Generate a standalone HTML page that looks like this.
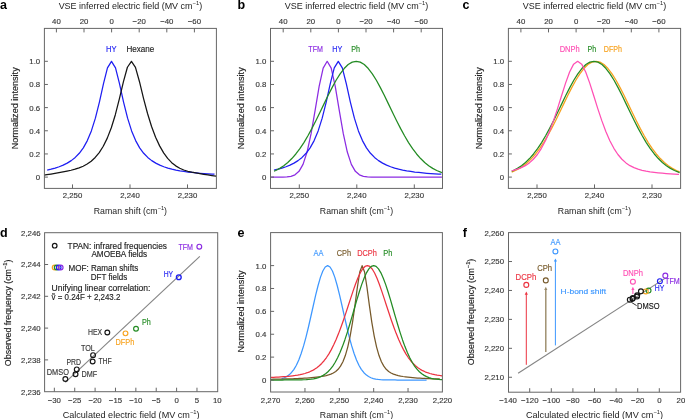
<!DOCTYPE html>
<html><head><meta charset="utf-8"><style>
html,body{margin:0;padding:0;background:#fff;}
svg{display:block;will-change:transform;}
text{font-family:"Liberation Sans", sans-serif;}
</style></head><body>
<svg width="685" height="419" viewBox="0 0 685 419">
<rect width="685" height="419" fill="#fff"/>
<polyline points="214.52,174.24 212.11,174.11 208.09,173.86 204.06,173.58 200.04,173.27 196.01,172.90 191.99,172.49 187.96,172.02 183.94,171.46 179.91,170.82 175.89,170.06 171.86,169.15 167.84,168.07 163.81,166.76 159.79,165.15 155.76,163.15 151.74,160.63 147.71,157.43 143.69,153.28 139.66,147.83 135.64,140.59 131.61,130.93 127.59,118.18 123.56,102.05 119.54,83.81 115.51,67.89 111.49,61.30 107.46,67.89 103.44,83.81 99.41,102.05 95.39,118.18 91.36,130.93 87.34,140.59 83.31,147.83 79.29,153.28 75.26,157.43 71.24,160.63 67.21,163.15 63.19,165.15 59.16,166.76 55.14,168.07 51.11,169.15 47.20,170.03" fill="none" stroke="#1e1ef2" stroke-width="1.25" stroke-linejoin="round"/>
<polyline points="216.25,176.11 215.96,176.07 211.94,175.54 207.91,174.94 203.89,174.30 199.86,173.65 195.84,172.97 191.81,172.22 187.79,171.27 183.76,169.99 179.74,168.24 175.71,165.85 171.69,162.64 167.66,158.39 163.64,152.87 159.61,145.87 155.59,137.16 151.56,126.47 147.54,113.53 143.51,98.29 139.49,81.71 135.46,67.31 131.44,61.30 127.41,67.26 123.39,81.84 119.36,98.97 115.34,114.71 111.31,127.75 107.29,138.14 103.26,146.27 99.24,152.58 95.21,157.45 91.19,161.18 87.16,164.04 83.14,166.22 79.11,167.90 75.09,169.21 71.06,170.24 67.04,171.10 63.01,171.88 58.99,172.62 54.96,173.34 50.94,174.04 46.91,174.70 44.04,175.15" fill="none" stroke="#151515" stroke-width="1.25" stroke-linejoin="round"/>
<rect x="44.40" y="28.40" width="172.00" height="160.00" fill="none" stroke="#666666" stroke-width="1"/>
<line x1="72.50" y1="188.40" x2="72.50" y2="184.40" stroke="#666666" stroke-width="1"/>
<text x="72.50" y="198.30" font-size="7.8" text-anchor="middle" fill="#383838" font-weight="normal" stroke="#383838" stroke-width="0.15">2,250</text>
<line x1="130.00" y1="188.40" x2="130.00" y2="184.40" stroke="#666666" stroke-width="1"/>
<text x="130.00" y="198.30" font-size="7.8" text-anchor="middle" fill="#383838" font-weight="normal" stroke="#383838" stroke-width="0.15">2,240</text>
<line x1="187.50" y1="188.40" x2="187.50" y2="184.40" stroke="#666666" stroke-width="1"/>
<text x="187.50" y="198.30" font-size="7.8" text-anchor="middle" fill="#383838" font-weight="normal" stroke="#383838" stroke-width="0.15">2,230</text>
<line x1="44.40" y1="177.10" x2="47.90" y2="177.10" stroke="#666666" stroke-width="1"/>
<text x="40.20" y="180.00" font-size="7.8" text-anchor="end" fill="#383838" font-weight="normal" stroke="#383838" stroke-width="0.15">0</text>
<line x1="44.40" y1="153.94" x2="47.90" y2="153.94" stroke="#666666" stroke-width="1"/>
<text x="40.20" y="156.84" font-size="7.8" text-anchor="end" fill="#383838" font-weight="normal" stroke="#383838" stroke-width="0.15">0.2</text>
<line x1="44.40" y1="130.78" x2="47.90" y2="130.78" stroke="#666666" stroke-width="1"/>
<text x="40.20" y="133.68" font-size="7.8" text-anchor="end" fill="#383838" font-weight="normal" stroke="#383838" stroke-width="0.15">0.4</text>
<line x1="44.40" y1="107.62" x2="47.90" y2="107.62" stroke="#666666" stroke-width="1"/>
<text x="40.20" y="110.52" font-size="7.8" text-anchor="end" fill="#383838" font-weight="normal" stroke="#383838" stroke-width="0.15">0.6</text>
<line x1="44.40" y1="84.46" x2="47.90" y2="84.46" stroke="#666666" stroke-width="1"/>
<text x="40.20" y="87.36" font-size="7.8" text-anchor="end" fill="#383838" font-weight="normal" stroke="#383838" stroke-width="0.15">0.8</text>
<line x1="44.40" y1="61.30" x2="47.90" y2="61.30" stroke="#666666" stroke-width="1"/>
<text x="40.20" y="64.20" font-size="7.8" text-anchor="end" fill="#383838" font-weight="normal" stroke="#383838" stroke-width="0.15">1.0</text>
<line x1="56.40" y1="28.40" x2="56.40" y2="32.40" stroke="#666666" stroke-width="1"/>
<text x="56.40" y="23.80" font-size="7.8" text-anchor="middle" fill="#383838" font-weight="normal" stroke="#383838" stroke-width="0.15">40</text>
<line x1="84.00" y1="28.40" x2="84.00" y2="32.40" stroke="#666666" stroke-width="1"/>
<text x="84.00" y="23.80" font-size="7.8" text-anchor="middle" fill="#383838" font-weight="normal" stroke="#383838" stroke-width="0.15">20</text>
<line x1="111.60" y1="28.40" x2="111.60" y2="32.40" stroke="#666666" stroke-width="1"/>
<text x="111.60" y="23.80" font-size="7.8" text-anchor="middle" fill="#383838" font-weight="normal" stroke="#383838" stroke-width="0.15">0</text>
<line x1="139.20" y1="28.40" x2="139.20" y2="32.40" stroke="#666666" stroke-width="1"/>
<text x="139.20" y="23.80" font-size="7.8" text-anchor="middle" fill="#383838" font-weight="normal" stroke="#383838" stroke-width="0.15">−20</text>
<line x1="166.80" y1="28.40" x2="166.80" y2="32.40" stroke="#666666" stroke-width="1"/>
<text x="166.80" y="23.80" font-size="7.8" text-anchor="middle" fill="#383838" font-weight="normal" stroke="#383838" stroke-width="0.15">−40</text>
<line x1="194.40" y1="28.40" x2="194.40" y2="32.40" stroke="#666666" stroke-width="1"/>
<text x="194.40" y="23.80" font-size="7.8" text-anchor="middle" fill="#383838" font-weight="normal" stroke="#383838" stroke-width="0.15">−60</text>
<text x="130.40" y="9.10" font-size="8.3" text-anchor="middle" fill="#222222" textLength="143.50" lengthAdjust="spacingAndGlyphs">VSE inferred electric field (MV cm<tspan dy="-3.9" font-size="5.4">−</tspan><tspan font-size="5.4">1</tspan><tspan dy="3.9">)</tspan></text>
<text x="130.40" y="214.10" font-size="8.4" text-anchor="middle" fill="#222222" textLength="73.30" lengthAdjust="spacingAndGlyphs">Raman shift (cm<tspan dy="-3.9" font-size="5.4">−</tspan><tspan font-size="5.4">1</tspan><tspan dy="3.9">)</tspan></text>
<text x="0" y="0" font-size="8.5" stroke="#222222" stroke-width="0.15" text-anchor="middle" fill="#222222" textLength="82" lengthAdjust="spacingAndGlyphs" transform="translate(18.30 108.3) rotate(-90)">Normalized intensity</text>
<text x="106.00" y="51.90" font-size="8.3" text-anchor="start" fill="#1e1ef2" font-weight="normal" stroke="#1e1ef2" stroke-width="0.15" textLength="10.60" lengthAdjust="spacingAndGlyphs">HY</text>
<text x="126.50" y="51.90" font-size="8.3" text-anchor="start" fill="#222222" font-weight="normal" stroke="#222222" stroke-width="0.15" textLength="27.80" lengthAdjust="spacingAndGlyphs">Hexane</text>
<polyline points="441.90,177.10 439.89,177.10 435.86,177.10 431.84,177.10 427.81,177.10 423.79,177.10 419.76,177.10 415.74,177.10 411.71,177.10 407.69,177.10 403.66,177.10 399.64,177.10 395.61,177.10 391.59,177.10 387.56,177.10 383.54,177.10 379.51,177.10 375.49,177.08 371.46,177.03 367.44,176.85 363.41,176.29 359.39,174.80 355.36,171.34 351.34,164.33 347.31,152.06 343.29,133.64 339.26,110.37 335.24,86.46 331.21,68.18 327.19,61.30 323.16,68.18 319.14,86.46 315.11,110.37 311.09,133.64 307.06,152.06 303.04,164.33 299.01,171.34 294.99,174.80 290.96,176.29 286.94,176.85 282.91,177.03 278.89,177.08 274.86,177.10 271.12,177.10" fill="none" stroke="#8b2be2" stroke-width="1.25" stroke-linejoin="round"/>
<polyline points="441.32,174.24 438.91,174.11 434.89,173.86 430.86,173.58 426.84,173.27 422.81,172.90 418.79,172.49 414.76,172.02 410.74,171.46 406.71,170.82 402.69,170.06 398.66,169.15 394.64,168.07 390.61,166.76 386.59,165.15 382.56,163.15 378.54,160.63 374.51,157.43 370.49,153.28 366.46,147.83 362.44,140.59 358.41,130.93 354.39,118.18 350.36,102.05 346.34,83.81 342.31,67.89 338.29,61.30 334.26,67.89 330.24,83.81 326.21,102.05 322.19,118.18 318.16,130.93 314.14,140.59 310.11,147.83 306.09,153.28 302.06,157.43 298.04,160.63 294.01,163.15 289.99,165.15 285.96,166.76 281.94,168.07 277.91,169.15 274.00,170.03" fill="none" stroke="#1e1ef2" stroke-width="1.25" stroke-linejoin="round"/>
<polyline points="441.90,172.58 440.75,172.17 436.73,170.49 432.70,168.36 428.68,165.71 424.65,162.47 420.62,158.57 416.60,153.97 412.58,148.63 408.55,142.56 404.53,135.80 400.50,128.40 396.48,120.50 392.45,112.26 388.43,103.86 384.40,95.56 380.37,87.61 376.35,80.28 372.33,73.83 368.30,68.53 364.28,64.57 360.25,62.13 356.23,61.30 352.20,62.13 348.18,64.57 344.15,68.53 340.12,73.83 336.10,80.28 332.08,87.61 328.05,95.56 324.03,103.86 320.00,112.26 315.98,120.50 311.95,128.40 307.93,135.80 303.90,142.56 299.87,148.63 295.85,153.97 291.83,158.57 287.80,162.47 283.78,165.71 279.75,168.36 275.73,170.49 274.00,171.26" fill="none" stroke="#238b23" stroke-width="1.25" stroke-linejoin="round"/>
<rect x="270.50" y="28.40" width="172.00" height="160.00" fill="none" stroke="#666666" stroke-width="1"/>
<line x1="299.30" y1="188.40" x2="299.30" y2="184.40" stroke="#666666" stroke-width="1"/>
<text x="299.30" y="198.30" font-size="7.8" text-anchor="middle" fill="#383838" font-weight="normal" stroke="#383838" stroke-width="0.15">2,250</text>
<line x1="356.80" y1="188.40" x2="356.80" y2="184.40" stroke="#666666" stroke-width="1"/>
<text x="356.80" y="198.30" font-size="7.8" text-anchor="middle" fill="#383838" font-weight="normal" stroke="#383838" stroke-width="0.15">2,240</text>
<line x1="414.30" y1="188.40" x2="414.30" y2="184.40" stroke="#666666" stroke-width="1"/>
<text x="414.30" y="198.30" font-size="7.8" text-anchor="middle" fill="#383838" font-weight="normal" stroke="#383838" stroke-width="0.15">2,230</text>
<line x1="270.50" y1="177.10" x2="274.00" y2="177.10" stroke="#666666" stroke-width="1"/>
<text x="266.30" y="180.00" font-size="7.8" text-anchor="end" fill="#383838" font-weight="normal" stroke="#383838" stroke-width="0.15">0</text>
<line x1="270.50" y1="153.94" x2="274.00" y2="153.94" stroke="#666666" stroke-width="1"/>
<text x="266.30" y="156.84" font-size="7.8" text-anchor="end" fill="#383838" font-weight="normal" stroke="#383838" stroke-width="0.15">0.2</text>
<line x1="270.50" y1="130.78" x2="274.00" y2="130.78" stroke="#666666" stroke-width="1"/>
<text x="266.30" y="133.68" font-size="7.8" text-anchor="end" fill="#383838" font-weight="normal" stroke="#383838" stroke-width="0.15">0.4</text>
<line x1="270.50" y1="107.62" x2="274.00" y2="107.62" stroke="#666666" stroke-width="1"/>
<text x="266.30" y="110.52" font-size="7.8" text-anchor="end" fill="#383838" font-weight="normal" stroke="#383838" stroke-width="0.15">0.6</text>
<line x1="270.50" y1="84.46" x2="274.00" y2="84.46" stroke="#666666" stroke-width="1"/>
<text x="266.30" y="87.36" font-size="7.8" text-anchor="end" fill="#383838" font-weight="normal" stroke="#383838" stroke-width="0.15">0.8</text>
<line x1="270.50" y1="61.30" x2="274.00" y2="61.30" stroke="#666666" stroke-width="1"/>
<text x="266.30" y="64.20" font-size="7.8" text-anchor="end" fill="#383838" font-weight="normal" stroke="#383838" stroke-width="0.15">1.0</text>
<line x1="283.20" y1="28.40" x2="283.20" y2="32.40" stroke="#666666" stroke-width="1"/>
<text x="283.20" y="23.80" font-size="7.8" text-anchor="middle" fill="#383838" font-weight="normal" stroke="#383838" stroke-width="0.15">40</text>
<line x1="310.80" y1="28.40" x2="310.80" y2="32.40" stroke="#666666" stroke-width="1"/>
<text x="310.80" y="23.80" font-size="7.8" text-anchor="middle" fill="#383838" font-weight="normal" stroke="#383838" stroke-width="0.15">20</text>
<line x1="338.40" y1="28.40" x2="338.40" y2="32.40" stroke="#666666" stroke-width="1"/>
<text x="338.40" y="23.80" font-size="7.8" text-anchor="middle" fill="#383838" font-weight="normal" stroke="#383838" stroke-width="0.15">0</text>
<line x1="366.00" y1="28.40" x2="366.00" y2="32.40" stroke="#666666" stroke-width="1"/>
<text x="366.00" y="23.80" font-size="7.8" text-anchor="middle" fill="#383838" font-weight="normal" stroke="#383838" stroke-width="0.15">−20</text>
<line x1="393.60" y1="28.40" x2="393.60" y2="32.40" stroke="#666666" stroke-width="1"/>
<text x="393.60" y="23.80" font-size="7.8" text-anchor="middle" fill="#383838" font-weight="normal" stroke="#383838" stroke-width="0.15">−40</text>
<line x1="421.20" y1="28.40" x2="421.20" y2="32.40" stroke="#666666" stroke-width="1"/>
<text x="421.20" y="23.80" font-size="7.8" text-anchor="middle" fill="#383838" font-weight="normal" stroke="#383838" stroke-width="0.15">−60</text>
<text x="356.50" y="9.10" font-size="8.3" text-anchor="middle" fill="#222222" textLength="143.50" lengthAdjust="spacingAndGlyphs">VSE inferred electric field (MV cm<tspan dy="-3.9" font-size="5.4">−</tspan><tspan font-size="5.4">1</tspan><tspan dy="3.9">)</tspan></text>
<text x="356.50" y="214.10" font-size="8.4" text-anchor="middle" fill="#222222" textLength="73.30" lengthAdjust="spacingAndGlyphs">Raman shift (cm<tspan dy="-3.9" font-size="5.4">−</tspan><tspan font-size="5.4">1</tspan><tspan dy="3.9">)</tspan></text>
<text x="0" y="0" font-size="8.5" stroke="#222222" stroke-width="0.15" text-anchor="middle" fill="#222222" textLength="82" lengthAdjust="spacingAndGlyphs" transform="translate(244.40 108.3) rotate(-90)">Normalized intensity</text>
<text x="308.30" y="51.90" font-size="8.3" text-anchor="start" fill="#8b2be2" font-weight="normal" stroke="#8b2be2" stroke-width="0.15" textLength="14.60" lengthAdjust="spacingAndGlyphs">TFM</text>
<text x="332.20" y="51.90" font-size="8.3" text-anchor="start" fill="#1e1ef2" font-weight="normal" stroke="#1e1ef2" stroke-width="0.15" textLength="10.00" lengthAdjust="spacingAndGlyphs">HY</text>
<text x="351.20" y="51.90" font-size="8.3" text-anchor="start" fill="#238b23" font-weight="normal" stroke="#238b23" stroke-width="0.15" textLength="8.80" lengthAdjust="spacingAndGlyphs">Ph</text>
<polyline points="679.60,171.85 676.44,170.49 672.41,168.36 668.39,165.71 664.36,162.47 660.34,158.57 656.31,153.97 652.29,148.63 648.26,142.56 644.24,135.80 640.21,128.40 636.19,120.50 632.16,112.26 628.14,103.86 624.11,95.56 620.09,87.61 616.06,80.28 612.04,73.83 608.01,68.53 603.99,64.57 599.96,62.13 595.94,61.30 591.91,62.13 587.89,64.57 583.86,68.53 579.84,73.83 575.81,80.28 571.79,87.61 567.76,95.56 563.74,103.86 559.71,112.26 555.69,120.50 551.66,128.40 547.64,135.80 543.61,142.56 539.59,148.63 535.56,153.97 531.54,158.57 527.51,162.47 523.49,165.71 519.46,168.36 515.44,170.49 511.70,172.07" fill="none" stroke="#f7a21e" stroke-width="1.25" stroke-linejoin="round"/>
<polyline points="679.60,172.58 678.45,172.17 674.43,170.49 670.40,168.36 666.38,165.71 662.35,162.47 658.32,158.57 654.30,153.97 650.28,148.63 646.25,142.56 642.23,135.80 638.20,128.40 634.18,120.50 630.15,112.26 626.12,103.86 622.10,95.56 618.07,87.61 614.05,80.28 610.03,73.83 606.00,68.53 601.98,64.57 597.95,62.13 593.93,61.30 589.90,62.13 585.88,64.57 581.85,68.53 577.82,73.83 573.80,80.28 569.78,87.61 565.75,95.56 561.73,103.86 557.70,112.26 553.68,120.50 549.65,128.40 545.62,135.80 541.60,142.56 537.57,148.63 533.55,153.97 529.53,158.57 525.50,162.47 521.48,165.71 517.45,168.36 513.43,170.49 511.70,171.26" fill="none" stroke="#238b23" stroke-width="1.25" stroke-linejoin="round"/>
<polyline points="679.02,174.37 678.28,174.33 674.25,174.10 670.23,173.85 666.20,173.57 662.18,173.24 658.15,172.86 654.13,172.40 650.10,171.86 646.08,171.18 642.05,170.32 638.03,169.19 634.00,167.68 629.98,165.65 625.95,162.91 621.93,159.26 617.90,154.48 613.88,148.33 609.85,140.68 605.83,131.43 601.80,120.65 597.78,108.60 593.75,95.79 589.73,83.12 585.70,71.98 581.68,64.15 577.65,61.30 573.63,64.15 569.60,71.98 565.58,83.12 561.55,95.79 557.53,108.60 553.50,120.65 549.48,131.43 545.45,140.68 541.43,148.33 537.40,154.48 533.38,159.26 529.35,162.91 525.33,165.65 521.30,167.68 517.28,169.19 513.25,170.32 511.70,170.68" fill="none" stroke="#ff4fb4" stroke-width="1.25" stroke-linejoin="round"/>
<rect x="508.40" y="28.40" width="172.20" height="160.00" fill="none" stroke="#666666" stroke-width="1"/>
<line x1="537.00" y1="188.40" x2="537.00" y2="184.40" stroke="#666666" stroke-width="1"/>
<text x="537.00" y="198.30" font-size="7.8" text-anchor="middle" fill="#383838" font-weight="normal" stroke="#383838" stroke-width="0.15">2,250</text>
<line x1="594.50" y1="188.40" x2="594.50" y2="184.40" stroke="#666666" stroke-width="1"/>
<text x="594.50" y="198.30" font-size="7.8" text-anchor="middle" fill="#383838" font-weight="normal" stroke="#383838" stroke-width="0.15">2,240</text>
<line x1="652.00" y1="188.40" x2="652.00" y2="184.40" stroke="#666666" stroke-width="1"/>
<text x="652.00" y="198.30" font-size="7.8" text-anchor="middle" fill="#383838" font-weight="normal" stroke="#383838" stroke-width="0.15">2,230</text>
<line x1="508.40" y1="177.10" x2="511.90" y2="177.10" stroke="#666666" stroke-width="1"/>
<text x="504.20" y="180.00" font-size="7.8" text-anchor="end" fill="#383838" font-weight="normal" stroke="#383838" stroke-width="0.15">0</text>
<line x1="508.40" y1="153.94" x2="511.90" y2="153.94" stroke="#666666" stroke-width="1"/>
<text x="504.20" y="156.84" font-size="7.8" text-anchor="end" fill="#383838" font-weight="normal" stroke="#383838" stroke-width="0.15">0.2</text>
<line x1="508.40" y1="130.78" x2="511.90" y2="130.78" stroke="#666666" stroke-width="1"/>
<text x="504.20" y="133.68" font-size="7.8" text-anchor="end" fill="#383838" font-weight="normal" stroke="#383838" stroke-width="0.15">0.4</text>
<line x1="508.40" y1="107.62" x2="511.90" y2="107.62" stroke="#666666" stroke-width="1"/>
<text x="504.20" y="110.52" font-size="7.8" text-anchor="end" fill="#383838" font-weight="normal" stroke="#383838" stroke-width="0.15">0.6</text>
<line x1="508.40" y1="84.46" x2="511.90" y2="84.46" stroke="#666666" stroke-width="1"/>
<text x="504.20" y="87.36" font-size="7.8" text-anchor="end" fill="#383838" font-weight="normal" stroke="#383838" stroke-width="0.15">0.8</text>
<line x1="508.40" y1="61.30" x2="511.90" y2="61.30" stroke="#666666" stroke-width="1"/>
<text x="504.20" y="64.20" font-size="7.8" text-anchor="end" fill="#383838" font-weight="normal" stroke="#383838" stroke-width="0.15">1.0</text>
<line x1="520.90" y1="28.40" x2="520.90" y2="32.40" stroke="#666666" stroke-width="1"/>
<text x="520.90" y="23.80" font-size="7.8" text-anchor="middle" fill="#383838" font-weight="normal" stroke="#383838" stroke-width="0.15">40</text>
<line x1="548.50" y1="28.40" x2="548.50" y2="32.40" stroke="#666666" stroke-width="1"/>
<text x="548.50" y="23.80" font-size="7.8" text-anchor="middle" fill="#383838" font-weight="normal" stroke="#383838" stroke-width="0.15">20</text>
<line x1="576.10" y1="28.40" x2="576.10" y2="32.40" stroke="#666666" stroke-width="1"/>
<text x="576.10" y="23.80" font-size="7.8" text-anchor="middle" fill="#383838" font-weight="normal" stroke="#383838" stroke-width="0.15">0</text>
<line x1="603.70" y1="28.40" x2="603.70" y2="32.40" stroke="#666666" stroke-width="1"/>
<text x="603.70" y="23.80" font-size="7.8" text-anchor="middle" fill="#383838" font-weight="normal" stroke="#383838" stroke-width="0.15">−20</text>
<line x1="631.30" y1="28.40" x2="631.30" y2="32.40" stroke="#666666" stroke-width="1"/>
<text x="631.30" y="23.80" font-size="7.8" text-anchor="middle" fill="#383838" font-weight="normal" stroke="#383838" stroke-width="0.15">−40</text>
<line x1="658.90" y1="28.40" x2="658.90" y2="32.40" stroke="#666666" stroke-width="1"/>
<text x="658.90" y="23.80" font-size="7.8" text-anchor="middle" fill="#383838" font-weight="normal" stroke="#383838" stroke-width="0.15">−60</text>
<text x="594.50" y="9.10" font-size="8.3" text-anchor="middle" fill="#222222" textLength="143.50" lengthAdjust="spacingAndGlyphs">VSE inferred electric field (MV cm<tspan dy="-3.9" font-size="5.4">−</tspan><tspan font-size="5.4">1</tspan><tspan dy="3.9">)</tspan></text>
<text x="594.50" y="214.10" font-size="8.4" text-anchor="middle" fill="#222222" textLength="73.30" lengthAdjust="spacingAndGlyphs">Raman shift (cm<tspan dy="-3.9" font-size="5.4">−</tspan><tspan font-size="5.4">1</tspan><tspan dy="3.9">)</tspan></text>
<text x="0" y="0" font-size="8.5" stroke="#222222" stroke-width="0.15" text-anchor="middle" fill="#222222" textLength="82" lengthAdjust="spacingAndGlyphs" transform="translate(482.30 108.3) rotate(-90)">Normalized intensity</text>
<text x="559.70" y="51.90" font-size="8.3" text-anchor="start" fill="#ff4fb4" font-weight="normal" stroke="#ff4fb4" stroke-width="0.15" textLength="20.00" lengthAdjust="spacingAndGlyphs">DNPh</text>
<text x="587.60" y="51.90" font-size="8.3" text-anchor="start" fill="#238b23" font-weight="normal" stroke="#238b23" stroke-width="0.15" textLength="8.60" lengthAdjust="spacingAndGlyphs">Ph</text>
<text x="603.80" y="51.90" font-size="8.3" text-anchor="start" fill="#f7a21e" font-weight="normal" stroke="#f7a21e" stroke-width="0.15" textLength="18.20" lengthAdjust="spacingAndGlyphs">DFPh</text>
<text x="0.00" y="9.00" font-size="12.5" text-anchor="start" fill="#000" font-weight="bold">a</text>
<text x="237.40" y="9.30" font-size="12.5" text-anchor="start" fill="#000" font-weight="bold">b</text>
<text x="462.60" y="9.30" font-size="12.5" text-anchor="start" fill="#000" font-weight="bold">c</text>
<text x="0.00" y="236.60" font-size="12.5" text-anchor="start" fill="#000" font-weight="bold">d</text>
<text x="237.60" y="236.60" font-size="12.5" text-anchor="start" fill="#000" font-weight="bold">e</text>
<text x="462.80" y="236.60" font-size="12.5" text-anchor="start" fill="#000" font-weight="bold">f</text>
<rect x="44.60" y="232.70" width="173.10" height="159.00" fill="none" stroke="#666666" stroke-width="1"/>
<line x1="54.35" y1="391.70" x2="54.35" y2="387.70" stroke="#666666" stroke-width="1"/>
<text x="54.35" y="402.70" font-size="7.8" text-anchor="middle" fill="#383838" font-weight="normal" stroke="#383838" stroke-width="0.15">−30</text>
<line x1="74.72" y1="391.70" x2="74.72" y2="387.70" stroke="#666666" stroke-width="1"/>
<text x="74.72" y="402.70" font-size="7.8" text-anchor="middle" fill="#383838" font-weight="normal" stroke="#383838" stroke-width="0.15">−25</text>
<line x1="95.10" y1="391.70" x2="95.10" y2="387.70" stroke="#666666" stroke-width="1"/>
<text x="95.10" y="402.70" font-size="7.8" text-anchor="middle" fill="#383838" font-weight="normal" stroke="#383838" stroke-width="0.15">−20</text>
<line x1="115.47" y1="391.70" x2="115.47" y2="387.70" stroke="#666666" stroke-width="1"/>
<text x="115.47" y="402.70" font-size="7.8" text-anchor="middle" fill="#383838" font-weight="normal" stroke="#383838" stroke-width="0.15">−15</text>
<line x1="135.85" y1="391.70" x2="135.85" y2="387.70" stroke="#666666" stroke-width="1"/>
<text x="135.85" y="402.70" font-size="7.8" text-anchor="middle" fill="#383838" font-weight="normal" stroke="#383838" stroke-width="0.15">−10</text>
<line x1="156.22" y1="391.70" x2="156.22" y2="387.70" stroke="#666666" stroke-width="1"/>
<text x="156.22" y="402.70" font-size="7.8" text-anchor="middle" fill="#383838" font-weight="normal" stroke="#383838" stroke-width="0.15">−5</text>
<line x1="176.60" y1="391.70" x2="176.60" y2="387.70" stroke="#666666" stroke-width="1"/>
<text x="176.60" y="402.70" font-size="7.8" text-anchor="middle" fill="#383838" font-weight="normal" stroke="#383838" stroke-width="0.15">0</text>
<line x1="196.97" y1="391.70" x2="196.97" y2="387.70" stroke="#666666" stroke-width="1"/>
<text x="196.97" y="402.70" font-size="7.8" text-anchor="middle" fill="#383838" font-weight="normal" stroke="#383838" stroke-width="0.15">5</text>
<text x="217.35" y="402.70" font-size="7.8" text-anchor="middle" fill="#383838" font-weight="normal" stroke="#383838" stroke-width="0.15">10</text>
<text x="40.60" y="394.60" font-size="7.8" text-anchor="end" fill="#383838" font-weight="normal" stroke="#383838" stroke-width="0.15">2,236</text>
<line x1="44.60" y1="359.90" x2="48.10" y2="359.90" stroke="#666666" stroke-width="1"/>
<text x="40.60" y="362.80" font-size="7.8" text-anchor="end" fill="#383838" font-weight="normal" stroke="#383838" stroke-width="0.15">2,238</text>
<line x1="44.60" y1="328.10" x2="48.10" y2="328.10" stroke="#666666" stroke-width="1"/>
<text x="40.60" y="331.00" font-size="7.8" text-anchor="end" fill="#383838" font-weight="normal" stroke="#383838" stroke-width="0.15">2,240</text>
<line x1="44.60" y1="296.30" x2="48.10" y2="296.30" stroke="#666666" stroke-width="1"/>
<text x="40.60" y="299.20" font-size="7.8" text-anchor="end" fill="#383838" font-weight="normal" stroke="#383838" stroke-width="0.15">2,242</text>
<line x1="44.60" y1="264.50" x2="48.10" y2="264.50" stroke="#666666" stroke-width="1"/>
<text x="40.60" y="267.40" font-size="7.8" text-anchor="end" fill="#383838" font-weight="normal" stroke="#383838" stroke-width="0.15">2,244</text>
<text x="40.60" y="235.60" font-size="7.8" text-anchor="end" fill="#383838" font-weight="normal" stroke="#383838" stroke-width="0.15">2,246</text>
<line x1="65.34" y1="382.38" x2="199.82" y2="256.45" stroke="#858585" stroke-width="1.15"/>
<circle cx="199.30" cy="246.69" r="2.4" fill="none" stroke="#8b2be2" stroke-width="1.15"/>
<circle cx="178.80" cy="277.22" r="2.4" fill="none" stroke="#1e1ef2" stroke-width="1.35"/>
<circle cx="136.01" cy="328.74" r="2.4" fill="none" stroke="#238b23" stroke-width="1.15"/>
<circle cx="125.50" cy="333.35" r="2.4" fill="none" stroke="#f7a21e" stroke-width="1.15"/>
<circle cx="107.32" cy="332.55" r="2.4" fill="none" stroke="#151515" stroke-width="1.15"/>
<circle cx="93.06" cy="355.13" r="2.4" fill="none" stroke="#151515" stroke-width="1.15"/>
<circle cx="92.65" cy="361.49" r="2.4" fill="none" stroke="#151515" stroke-width="1.15"/>
<circle cx="76.76" cy="369.44" r="2.4" fill="none" stroke="#151515" stroke-width="1.15"/>
<circle cx="75.54" cy="374.21" r="2.4" fill="none" stroke="#151515" stroke-width="1.15"/>
<circle cx="65.35" cy="378.98" r="2.4" fill="none" stroke="#151515" stroke-width="1.15"/>
<text x="178.40" y="249.50" font-size="8.3" text-anchor="start" fill="#8b2be2" font-weight="normal" stroke="#8b2be2" stroke-width="0.15" textLength="14.60" lengthAdjust="spacingAndGlyphs">TFM</text>
<text x="163.70" y="277.40" font-size="8.3" text-anchor="start" fill="#1e1ef2" font-weight="normal" stroke="#1e1ef2" stroke-width="0.15" textLength="9.40" lengthAdjust="spacingAndGlyphs">HY</text>
<text x="142.00" y="324.60" font-size="8.3" text-anchor="start" fill="#238b23" font-weight="normal" stroke="#238b23" stroke-width="0.15" textLength="8.80" lengthAdjust="spacingAndGlyphs">Ph</text>
<text x="115.50" y="344.70" font-size="8.3" text-anchor="start" fill="#f7a21e" font-weight="normal" stroke="#f7a21e" stroke-width="0.15" textLength="18.80" lengthAdjust="spacingAndGlyphs">DFPh</text>
<text x="87.90" y="334.60" font-size="8.3" text-anchor="start" fill="#383838" font-weight="normal" stroke="#383838" stroke-width="0.15" textLength="14.20" lengthAdjust="spacingAndGlyphs">HEX</text>
<text x="80.90" y="350.90" font-size="8.3" text-anchor="start" fill="#383838" font-weight="normal" stroke="#383838" stroke-width="0.15" textLength="13.90" lengthAdjust="spacingAndGlyphs">TOL</text>
<text x="98.40" y="363.90" font-size="8.3" text-anchor="start" fill="#383838" font-weight="normal" stroke="#383838" stroke-width="0.15" textLength="13.40" lengthAdjust="spacingAndGlyphs">THF</text>
<text x="66.50" y="365.10" font-size="8.3" text-anchor="start" fill="#383838" font-weight="normal" stroke="#383838" stroke-width="0.15" textLength="14.60" lengthAdjust="spacingAndGlyphs">PRD</text>
<text x="46.80" y="374.90" font-size="8.3" text-anchor="start" fill="#383838" font-weight="normal" stroke="#383838" stroke-width="0.15" textLength="22.10" lengthAdjust="spacingAndGlyphs">DMSO</text>
<text x="81.50" y="376.80" font-size="8.3" text-anchor="start" fill="#383838" font-weight="normal" stroke="#383838" stroke-width="0.15" textLength="15.70" lengthAdjust="spacingAndGlyphs">DMF</text>
<circle cx="54.70" cy="245.70" r="2.3" fill="none" stroke="#151515" stroke-width="1.2"/>
<text x="67.60" y="248.60" font-size="8.6" text-anchor="start" fill="#222222" font-weight="normal" stroke="#222222" stroke-width="0.15" textLength="99.30" lengthAdjust="spacingAndGlyphs">TPAN: infrared frequencies</text>
<text x="91.40" y="257.40" font-size="8.6" text-anchor="start" fill="#222222" font-weight="normal" stroke="#222222" stroke-width="0.15" textLength="55.80" lengthAdjust="spacingAndGlyphs">AMOEBA fields</text>
<circle cx="54.60" cy="267.50" r="2.3" fill="none" stroke="#f7a21e" stroke-width="1.2"/>
<circle cx="56.65" cy="267.50" r="2.3" fill="none" stroke="#238b23" stroke-width="1.2"/>
<circle cx="58.70" cy="267.50" r="2.3" fill="none" stroke="#1e1ef2" stroke-width="1.2"/>
<circle cx="60.75" cy="267.50" r="2.3" fill="none" stroke="#8b2be2" stroke-width="1.2"/>
<text x="68.60" y="270.90" font-size="8.6" text-anchor="start" fill="#222222" font-weight="normal" stroke="#222222" stroke-width="0.15" textLength="69.60" lengthAdjust="spacingAndGlyphs">MOF: Raman shifts</text>
<text x="90.80" y="279.60" font-size="8.6" text-anchor="start" fill="#222222" font-weight="normal" stroke="#222222" stroke-width="0.15" textLength="36.40" lengthAdjust="spacingAndGlyphs">DFT fields</text>
<text x="51.50" y="291.20" font-size="8.6" text-anchor="start" fill="#222222" font-weight="normal" stroke="#222222" stroke-width="0.15" textLength="99.00" lengthAdjust="spacingAndGlyphs">Unifying linear correlation:</text>
<text x="51.50" y="300.30" font-size="8.6" text-anchor="start" fill="#222222" font-weight="normal" stroke="#222222" stroke-width="0.15" textLength="68.90" lengthAdjust="spacingAndGlyphs">ṽ = 0.24F + 2,243.2</text>
<text x="131.15" y="417.70" font-size="8.4" text-anchor="middle" fill="#222222" textLength="137.00" lengthAdjust="spacingAndGlyphs">Calculated electric field (MV cm<tspan dy="-3.9" font-size="5.4">−</tspan><tspan font-size="5.4">1</tspan><tspan dy="3.9">)</tspan></text>
<text x="0" y="0" font-size="8.5" stroke="#222222" stroke-width="0.15" text-anchor="middle" fill="#222222" textLength="106.5" lengthAdjust="spacingAndGlyphs" transform="translate(11.3 312.9) rotate(-90)">Observed frequency (cm<tspan dy="-3.9" font-size="5.4">−</tspan><tspan font-size="5.4">1</tspan><tspan dy="3.9">)</tspan></text>
<polyline points="426.59,380.00 426.25,380.00 423.85,380.00 421.44,380.00 419.04,380.00 416.63,380.00 414.22,380.00 411.82,380.00 409.41,380.00 407.01,380.00 404.60,380.00 402.20,380.00 399.79,380.00 397.39,380.00 394.98,379.99 392.58,379.98 390.17,379.97 387.77,379.94 385.36,379.89 382.96,379.81 380.55,379.67 378.15,379.45 375.74,379.09 373.34,378.55 370.93,377.73 368.53,376.53 366.12,374.83 363.72,372.48 361.31,369.32 358.91,365.19 356.50,359.97 354.09,353.54 351.69,345.88 349.28,337.06 346.88,327.26 344.47,316.76 342.07,305.99 339.66,295.46 337.26,285.73 334.85,277.40 332.45,271.00 330.04,266.98 327.64,265.60 325.23,266.98 322.83,271.00 320.42,277.40 318.02,285.73 315.61,295.46 313.21,305.99 310.80,316.76 308.40,327.26 305.99,337.06 303.59,345.88 301.18,353.54 298.78,359.97 296.37,365.19 293.96,369.32 291.56,372.48 289.15,374.83 286.75,376.53 284.34,377.73 281.94,378.55 281.60,378.64" fill="none" stroke="#3d97ff" stroke-width="1.25" stroke-linejoin="round"/>
<polyline points="439.99,379.00 439.14,378.98 436.73,378.91 434.33,378.84 431.92,378.76 429.51,378.67 427.11,378.57 424.70,378.46 422.30,378.34 419.89,378.20 417.49,378.05 415.08,377.87 412.68,377.67 410.27,377.44 407.87,377.17 405.46,376.86 403.06,376.50 400.65,376.07 398.25,375.54 395.84,374.89 393.44,374.06 391.03,372.95 388.63,371.43 386.22,369.27 383.82,366.17 381.41,361.75 379.01,355.55 376.60,347.11 374.20,336.04 371.79,322.09 369.38,305.43 366.98,287.41 364.57,271.98 362.17,265.60 359.76,271.98 357.36,287.41 354.95,305.43 352.55,322.09 350.14,336.04 347.74,347.11 345.33,355.55 342.93,361.75 340.52,366.17 338.12,369.27 335.71,371.43 333.31,372.95 330.90,374.06 328.50,374.89 326.09,375.54 323.69,376.07 321.28,376.50 318.88,376.86 316.47,377.17 314.07,377.44 311.66,377.67 309.25,377.87 306.85,378.05 304.44,378.20 302.04,378.34 299.63,378.46 297.23,378.57 294.82,378.67 292.42,378.76 290.01,378.84 287.61,378.91 285.20,378.98 282.80,379.04 280.39,379.09 277.99,379.15 275.58,379.19 273.18,379.23 270.94,379.27" fill="none" stroke="#76592a" stroke-width="1.25" stroke-linejoin="round"/>
<polyline points="442.06,375.79 441.95,375.78 439.55,375.46 437.14,375.08 434.74,374.64 432.33,374.12 429.93,373.48 427.52,372.72 425.12,371.80 422.71,370.69 420.31,369.34 417.90,367.72 415.50,365.77 413.09,363.45 410.69,360.72 408.28,357.52 405.88,353.83 403.47,349.60 401.06,344.82 398.66,339.48 396.25,333.61 393.85,327.25 391.44,320.45 389.04,313.32 386.63,305.98 384.23,298.59 381.82,291.35 379.42,284.49 377.01,278.28 374.61,273.02 372.20,269.00 369.80,266.46 367.39,265.60 364.99,266.46 362.58,269.00 360.18,273.02 357.77,278.28 355.37,284.49 352.96,291.35 350.56,298.59 348.15,305.98 345.75,313.32 343.34,320.45 340.93,327.25 338.53,333.61 336.12,339.48 333.72,344.82 331.31,349.60 328.91,353.83 326.50,357.52 324.10,360.72 321.69,363.45 319.29,365.77 316.88,367.72 314.48,369.34 312.07,370.69 309.67,371.80 307.26,372.72 304.86,373.48 302.45,374.12 300.05,374.64 297.64,375.08 295.24,375.46 292.83,375.78 290.43,376.06 288.02,376.31 285.62,376.52 283.21,376.72 280.80,376.89 278.40,377.05 275.99,377.20 273.59,377.34 271.18,377.46 270.94,377.47" fill="none" stroke="#ec3340" stroke-width="1.25" stroke-linejoin="round"/>
<polyline points="442.06,379.68 441.03,379.62 438.62,379.43 436.22,379.17 433.81,378.79 431.40,378.28 429.00,377.57 426.59,376.63 424.19,375.39 421.78,373.79 419.38,371.75 416.97,369.19 414.57,366.06 412.16,362.27 409.76,357.78 407.35,352.55 404.95,346.59 402.54,339.92 400.14,332.61 397.73,324.78 395.33,316.58 392.92,308.22 390.52,299.94 388.11,291.98 385.71,284.64 383.30,278.18 380.90,272.86 378.49,268.88 376.09,266.43 373.68,265.60 371.27,266.43 368.87,268.88 366.46,272.86 364.06,278.18 361.65,284.64 359.25,291.98 356.84,299.94 354.44,308.22 352.03,316.58 349.63,324.78 347.22,332.61 344.82,339.92 342.41,346.59 340.01,352.55 337.60,357.78 335.20,362.27 332.79,366.06 330.39,369.19 327.98,371.75 325.58,373.79 323.17,375.39 320.77,376.63 318.36,377.57 315.96,378.28 313.55,378.79 311.14,379.17 308.74,379.43 306.33,379.62 303.93,379.75 301.52,379.84 299.12,379.90 296.71,379.93 294.31,379.96 291.90,379.97 289.50,379.98 287.09,379.99 284.69,379.99 282.28,380.00 279.88,380.00 277.47,380.00 275.07,380.00 272.66,380.00 270.94,380.00" fill="none" stroke="#238b23" stroke-width="1.25" stroke-linejoin="round"/>
<rect x="270.60" y="232.60" width="171.80" height="159.40" fill="none" stroke="#666666" stroke-width="1"/>
<text x="270.60" y="402.90" font-size="7.8" text-anchor="middle" fill="#383838" font-weight="normal" stroke="#383838" stroke-width="0.15">2,270</text>
<line x1="304.96" y1="392.00" x2="304.96" y2="388.00" stroke="#666666" stroke-width="1"/>
<text x="304.96" y="402.90" font-size="7.8" text-anchor="middle" fill="#383838" font-weight="normal" stroke="#383838" stroke-width="0.15">2,260</text>
<line x1="339.32" y1="392.00" x2="339.32" y2="388.00" stroke="#666666" stroke-width="1"/>
<text x="339.32" y="402.90" font-size="7.8" text-anchor="middle" fill="#383838" font-weight="normal" stroke="#383838" stroke-width="0.15">2,250</text>
<line x1="373.68" y1="392.00" x2="373.68" y2="388.00" stroke="#666666" stroke-width="1"/>
<text x="373.68" y="402.90" font-size="7.8" text-anchor="middle" fill="#383838" font-weight="normal" stroke="#383838" stroke-width="0.15">2,240</text>
<line x1="408.04" y1="392.00" x2="408.04" y2="388.00" stroke="#666666" stroke-width="1"/>
<text x="408.04" y="402.90" font-size="7.8" text-anchor="middle" fill="#383838" font-weight="normal" stroke="#383838" stroke-width="0.15">2,230</text>
<text x="442.40" y="402.90" font-size="7.8" text-anchor="middle" fill="#383838" font-weight="normal" stroke="#383838" stroke-width="0.15">2,220</text>
<line x1="270.60" y1="380.00" x2="274.10" y2="380.00" stroke="#666666" stroke-width="1"/>
<text x="266.40" y="382.90" font-size="7.8" text-anchor="end" fill="#383838" font-weight="normal" stroke="#383838" stroke-width="0.15">0</text>
<line x1="270.60" y1="357.12" x2="274.10" y2="357.12" stroke="#666666" stroke-width="1"/>
<text x="266.40" y="360.02" font-size="7.8" text-anchor="end" fill="#383838" font-weight="normal" stroke="#383838" stroke-width="0.15">0.2</text>
<line x1="270.60" y1="334.24" x2="274.10" y2="334.24" stroke="#666666" stroke-width="1"/>
<text x="266.40" y="337.14" font-size="7.8" text-anchor="end" fill="#383838" font-weight="normal" stroke="#383838" stroke-width="0.15">0.4</text>
<line x1="270.60" y1="311.36" x2="274.10" y2="311.36" stroke="#666666" stroke-width="1"/>
<text x="266.40" y="314.26" font-size="7.8" text-anchor="end" fill="#383838" font-weight="normal" stroke="#383838" stroke-width="0.15">0.6</text>
<line x1="270.60" y1="288.48" x2="274.10" y2="288.48" stroke="#666666" stroke-width="1"/>
<text x="266.40" y="291.38" font-size="7.8" text-anchor="end" fill="#383838" font-weight="normal" stroke="#383838" stroke-width="0.15">0.8</text>
<line x1="270.60" y1="265.60" x2="274.10" y2="265.60" stroke="#666666" stroke-width="1"/>
<text x="266.40" y="268.50" font-size="7.8" text-anchor="end" fill="#383838" font-weight="normal" stroke="#383838" stroke-width="0.15">1.0</text>
<text x="313.40" y="255.90" font-size="8.3" text-anchor="start" fill="#3d97ff" font-weight="normal" stroke="#3d97ff" stroke-width="0.15" textLength="10.00" lengthAdjust="spacingAndGlyphs">AA</text>
<text x="336.80" y="255.90" font-size="8.3" text-anchor="start" fill="#76592a" font-weight="normal" stroke="#76592a" stroke-width="0.15" textLength="14.30" lengthAdjust="spacingAndGlyphs">CPh</text>
<text x="357.20" y="255.90" font-size="8.3" text-anchor="start" fill="#ec3340" font-weight="normal" stroke="#ec3340" stroke-width="0.15" textLength="19.70" lengthAdjust="spacingAndGlyphs">DCPh</text>
<text x="383.20" y="255.90" font-size="8.3" text-anchor="start" fill="#238b23" font-weight="normal" stroke="#238b23" stroke-width="0.15" textLength="9.10" lengthAdjust="spacingAndGlyphs">Ph</text>
<text x="356.50" y="418.00" font-size="8.4" text-anchor="middle" fill="#222222" textLength="73.30" lengthAdjust="spacingAndGlyphs">Raman shift (cm<tspan dy="-3.9" font-size="5.4">−</tspan><tspan font-size="5.4">1</tspan><tspan dy="3.9">)</tspan></text>
<text x="0" y="0" font-size="8.5" stroke="#222222" stroke-width="0.15" text-anchor="middle" fill="#222222" textLength="82" lengthAdjust="spacingAndGlyphs" transform="translate(244.3 311.5) rotate(-90)">Normalized intensity</text>
<rect x="508.50" y="232.60" width="172.10" height="159.60" fill="none" stroke="#666666" stroke-width="1"/>
<text x="508.10" y="403.00" font-size="7.8" text-anchor="middle" fill="#383838" font-weight="normal" stroke="#383838" stroke-width="0.15">−140</text>
<line x1="529.70" y1="392.20" x2="529.70" y2="388.20" stroke="#666666" stroke-width="1"/>
<text x="529.70" y="403.00" font-size="7.8" text-anchor="middle" fill="#383838" font-weight="normal" stroke="#383838" stroke-width="0.15">−120</text>
<line x1="551.30" y1="392.20" x2="551.30" y2="388.20" stroke="#666666" stroke-width="1"/>
<text x="551.30" y="403.00" font-size="7.8" text-anchor="middle" fill="#383838" font-weight="normal" stroke="#383838" stroke-width="0.15">−100</text>
<line x1="572.90" y1="392.20" x2="572.90" y2="388.20" stroke="#666666" stroke-width="1"/>
<text x="572.90" y="403.00" font-size="7.8" text-anchor="middle" fill="#383838" font-weight="normal" stroke="#383838" stroke-width="0.15">−80</text>
<line x1="594.50" y1="392.20" x2="594.50" y2="388.20" stroke="#666666" stroke-width="1"/>
<text x="594.50" y="403.00" font-size="7.8" text-anchor="middle" fill="#383838" font-weight="normal" stroke="#383838" stroke-width="0.15">−60</text>
<line x1="616.10" y1="392.20" x2="616.10" y2="388.20" stroke="#666666" stroke-width="1"/>
<text x="616.10" y="403.00" font-size="7.8" text-anchor="middle" fill="#383838" font-weight="normal" stroke="#383838" stroke-width="0.15">−40</text>
<line x1="637.70" y1="392.20" x2="637.70" y2="388.20" stroke="#666666" stroke-width="1"/>
<text x="637.70" y="403.00" font-size="7.8" text-anchor="middle" fill="#383838" font-weight="normal" stroke="#383838" stroke-width="0.15">−20</text>
<line x1="659.30" y1="392.20" x2="659.30" y2="388.20" stroke="#666666" stroke-width="1"/>
<text x="659.30" y="403.00" font-size="7.8" text-anchor="middle" fill="#383838" font-weight="normal" stroke="#383838" stroke-width="0.15">0</text>
<text x="680.90" y="403.00" font-size="7.8" text-anchor="middle" fill="#383838" font-weight="normal" stroke="#383838" stroke-width="0.15">20</text>
<line x1="508.50" y1="377.25" x2="512.00" y2="377.25" stroke="#666666" stroke-width="1"/>
<text x="504.00" y="380.15" font-size="7.8" text-anchor="end" fill="#383838" font-weight="normal" stroke="#383838" stroke-width="0.15">2,210</text>
<line x1="508.50" y1="348.32" x2="512.00" y2="348.32" stroke="#666666" stroke-width="1"/>
<text x="504.00" y="351.22" font-size="7.8" text-anchor="end" fill="#383838" font-weight="normal" stroke="#383838" stroke-width="0.15">2,220</text>
<line x1="508.50" y1="319.39" x2="512.00" y2="319.39" stroke="#666666" stroke-width="1"/>
<text x="504.00" y="322.29" font-size="7.8" text-anchor="end" fill="#383838" font-weight="normal" stroke="#383838" stroke-width="0.15">2,230</text>
<line x1="508.50" y1="290.46" x2="512.00" y2="290.46" stroke="#666666" stroke-width="1"/>
<text x="504.00" y="293.36" font-size="7.8" text-anchor="end" fill="#383838" font-weight="normal" stroke="#383838" stroke-width="0.15">2,240</text>
<line x1="508.50" y1="261.53" x2="512.00" y2="261.53" stroke="#666666" stroke-width="1"/>
<text x="504.00" y="264.43" font-size="7.8" text-anchor="end" fill="#383838" font-weight="normal" stroke="#383838" stroke-width="0.15">2,250</text>
<text x="504.00" y="235.50" font-size="7.8" text-anchor="end" fill="#383838" font-weight="normal" stroke="#383838" stroke-width="0.15">2,260</text>
<line x1="518.10" y1="373.30" x2="665.35" y2="278.11" stroke="#858585" stroke-width="1.15"/>
<line x1="526.30" y1="364.80" x2="526.30" y2="294.10" stroke="#ec3340" stroke-width="1.0"/>
<path d="M524.70,294.80 L526.30,291.60 L527.90,294.80 Z" fill="#ec3340"/>
<line x1="545.80" y1="351.90" x2="545.80" y2="289.30" stroke="#9a8a68" stroke-width="1.4"/>
<path d="M544.20,290.00 L545.80,286.80 L547.40,290.00 Z" fill="#9a8a68"/>
<line x1="555.40" y1="345.40" x2="555.40" y2="260.90" stroke="#3d97ff" stroke-width="1.0"/>
<path d="M553.80,261.60 L555.40,258.40 L557.00,261.60 Z" fill="#3d97ff"/>
<line x1="632.90" y1="294.00" x2="632.90" y2="289.30" stroke="#ff4fb4" stroke-width="1.0"/>
<path d="M631.30,290.00 L632.90,286.80 L634.50,290.00 Z" fill="#ff4fb4"/>
<circle cx="526.30" cy="284.90" r="2.45" fill="none" stroke="#ec3340" stroke-width="1.15"/>
<circle cx="545.80" cy="280.40" r="2.45" fill="none" stroke="#76592a" stroke-width="1.15"/>
<circle cx="555.40" cy="251.40" r="2.45" fill="none" stroke="#3d97ff" stroke-width="1.15"/>
<circle cx="632.90" cy="281.70" r="2.45" fill="none" stroke="#ff4fb4" stroke-width="1.15"/>
<circle cx="665.32" cy="275.65" r="2.45" fill="none" stroke="#8b2be2" stroke-width="1.15"/>
<circle cx="659.88" cy="281.20" r="2.45" fill="none" stroke="#1e1ef2" stroke-width="1.15"/>
<circle cx="648.54" cy="290.58" r="2.45" fill="none" stroke="#238b23" stroke-width="1.15"/>
<circle cx="645.76" cy="291.41" r="2.45" fill="none" stroke="#f7a21e" stroke-width="1.15"/>
<circle cx="640.94" cy="291.27" r="2.45" fill="none" stroke="#151515" stroke-width="1.15"/>
<circle cx="637.16" cy="295.38" r="2.45" fill="none" stroke="#151515" stroke-width="1.15"/>
<circle cx="637.05" cy="296.54" r="2.45" fill="none" stroke="#151515" stroke-width="1.15"/>
<circle cx="632.84" cy="297.98" r="2.45" fill="none" stroke="#151515" stroke-width="1.15"/>
<circle cx="632.52" cy="298.85" r="2.45" fill="none" stroke="#151515" stroke-width="1.15"/>
<circle cx="629.82" cy="299.72" r="2.45" fill="none" stroke="#151515" stroke-width="1.15"/>
<line x1="636.60" y1="305.60" x2="631.40" y2="302.30" stroke="#151515" stroke-width="0.9"/>
<text x="515.60" y="279.60" font-size="8.3" text-anchor="start" fill="#ec3340" font-weight="normal" stroke="#ec3340" stroke-width="0.15" textLength="20.70" lengthAdjust="spacingAndGlyphs">DCPh</text>
<text x="537.20" y="271.40" font-size="8.3" text-anchor="start" fill="#76592a" font-weight="normal" stroke="#76592a" stroke-width="0.15" textLength="14.90" lengthAdjust="spacingAndGlyphs">CPh</text>
<text x="550.40" y="245.40" font-size="8.3" text-anchor="start" fill="#3d97ff" font-weight="normal" stroke="#3d97ff" stroke-width="0.15" textLength="10.00" lengthAdjust="spacingAndGlyphs">AA</text>
<text x="560.60" y="293.90" font-size="7.5" text-anchor="start" fill="#3d97ff" font-weight="normal" stroke="#3d97ff" stroke-width="0.15" textLength="45.40" lengthAdjust="spacingAndGlyphs">H-bond shift</text>
<text x="622.90" y="275.90" font-size="8.3" text-anchor="start" fill="#ff4fb4" font-weight="normal" stroke="#ff4fb4" stroke-width="0.15" textLength="20.20" lengthAdjust="spacingAndGlyphs">DNPh</text>
<text x="665.10" y="284.20" font-size="8.3" text-anchor="start" fill="#8b2be2" font-weight="normal" stroke="#8b2be2" stroke-width="0.15" textLength="14.70" lengthAdjust="spacingAndGlyphs">TFM</text>
<text x="654.80" y="290.90" font-size="8.3" text-anchor="start" fill="#1e1ef2" font-weight="normal" stroke="#1e1ef2" stroke-width="0.15" textLength="9.50" lengthAdjust="spacingAndGlyphs">HY</text>
<text x="637.10" y="308.50" font-size="8.3" text-anchor="start" fill="#151515" font-weight="normal" stroke="#151515" stroke-width="0.15" textLength="22.50" lengthAdjust="spacingAndGlyphs">DMSO</text>
<text x="594.55" y="417.70" font-size="8.4" text-anchor="middle" fill="#222222" textLength="137.20" lengthAdjust="spacingAndGlyphs">Calculated electric field (MV cm<tspan dy="-3.9" font-size="5.4">−</tspan><tspan font-size="5.4">1</tspan><tspan dy="3.9">)</tspan></text>
<text x="0" y="0" font-size="8.5" stroke="#222222" stroke-width="0.15" text-anchor="middle" fill="#222222" textLength="106.5" lengthAdjust="spacingAndGlyphs" transform="translate(473.6 312.0) rotate(-90)">Observed frequency (cm<tspan dy="-3.9" font-size="5.4">−</tspan><tspan font-size="5.4">1</tspan><tspan dy="3.9">)</tspan></text>
</svg></body></html>
